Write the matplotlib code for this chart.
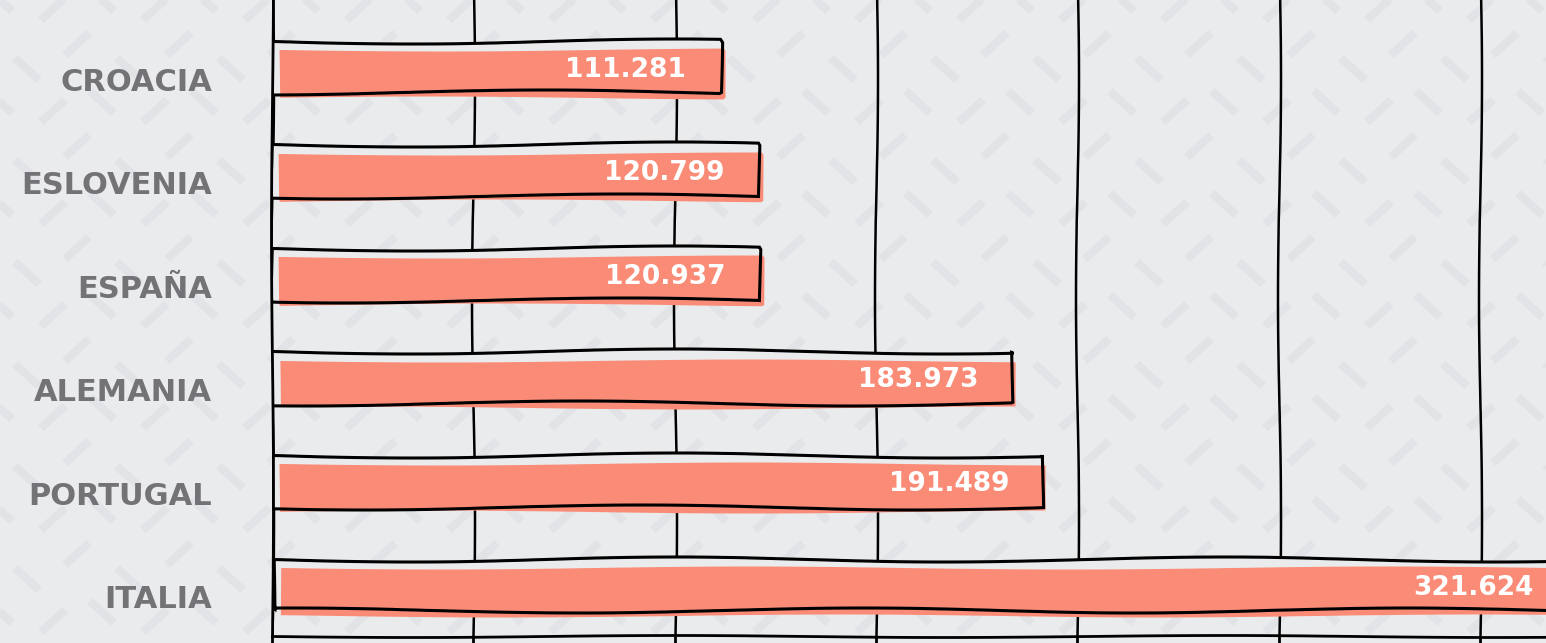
"""Hand-drawn style horizontal bar chart (countries vs value)."""

import matplotlib.pyplot as plt
import numpy as np
from matplotlib.collections import LineCollection

countries = ["CROACIA", "ESLOVENIA", "ESPAÑA", "ALEMANIA", "PORTUGAL", "ITALIA"]
values = [111.281, 120.799, 120.937, 183.973, 191.489, 321.624]
grid_ticks = [0, 50, 100, 150, 200, 250, 300]

BG = "#EAEBED"
DASH = "#E2E3E6"
SALMON = "#FA8B76"
LABEL_GREY = "#737377"

W, H = 1546, 643


def draw_background(fig):
    bg = fig.add_axes([0, 0, 1, 1], zorder=-1)
    bg.set_xlim(0, W)
    bg.set_ylim(H, 0)
    bg.axis("off")
    bg.set_facecolor(BG)
    segs = []
    step = 102
    for ty in np.arange(-step, H + step, step):
        for tx in np.arange(-step, W + step, step):
            # two "\" dashes and two "/" dashes per tile
            for cx, cy, d in [(0, 0, 1), (27, 69, 1), (-49, 9, -1), (-25, 44, -1)]:
                x0, y0 = tx + cx, ty + cy
                segs.append([(x0 - 12, y0 - 11 * d), (x0 + 12, y0 + 11 * d)])
    bg.add_collection(LineCollection(segs, colors=DASH, linewidths=5.8,
                                     capstyle="butt"))


def main():
    fig = plt.figure(figsize=(W / 100, H / 100), dpi=100, facecolor=BG)
    draw_background(fig)

    ax = fig.add_axes([272 / W, (H - 636) / H, (W - 272) / W, 636 / H])
    ax.set_facecolor("none")

    y = np.arange(len(countries))
    vals = np.array(values)

    # box behind the fill (hides the grid), salmon fill, then the outline on top
    boxes = ax.barh(y - 0.12, vals, height=0.5, left=0, color=BG, zorder=2)
    fills = ax.barh(y - 0.05, vals - 1, height=0.46, left=2, color=SALMON, zorder=3)
    outlines = ax.barh(y - 0.12, vals, height=0.5, left=0, fill=False,
                       edgecolor="black", linewidth=2.2, zorder=4)
    for p in boxes:
        p.set_sketch_params(2.5, 600, 2)
    for p in fills:
        p.set_sketch_params(1.5, 700, 2)
    for p in outlines:
        p.set_sketch_params(2.5, 600, 2)

    for yi, v in zip(y, vals):
        ax.annotate(f"{v:.3f}", xy=(v, yi - 0.09), xytext=(-34, 0),
                    textcoords="offset pixels", ha="right", va="center",
                    color="white", fontsize=19, fontweight="bold", zorder=5,
                    annotation_clip=False)

    ax.set_xlim(0, (W - 272) / 4.027)
    ax.set_ylim(5.377, -0.763)

    ax.set_xticks(grid_ticks)
    ax.set_xticklabels([])
    ax.tick_params(axis="x", length=7, width=2, color="black", direction="out")
    ax.grid(axis="x", color="black", linewidth=1.8, zorder=1)
    ax.set_axisbelow(True)
    for line in ax.get_xgridlines():
        line.set_sketch_params(1.5, 500, 2)

    ax.set_yticks(y)
    ax.set_yticklabels(countries, fontsize=22, fontweight="bold", color=LABEL_GREY)
    ax.tick_params(axis="y", length=0, pad=43)

    for side in ["top", "right"]:
        ax.spines[side].set_visible(False)
    for side in ["left", "bottom"]:
        ax.spines[side].set_linewidth(2)
        ax.spines[side].set_color("black")
        ax.spines[side].set_sketch_params(1, 600, 2)

    fig.savefig("out.png", dpi=100, facecolor=BG)
    plt.close(fig)


if __name__ == "__main__":
    main()
